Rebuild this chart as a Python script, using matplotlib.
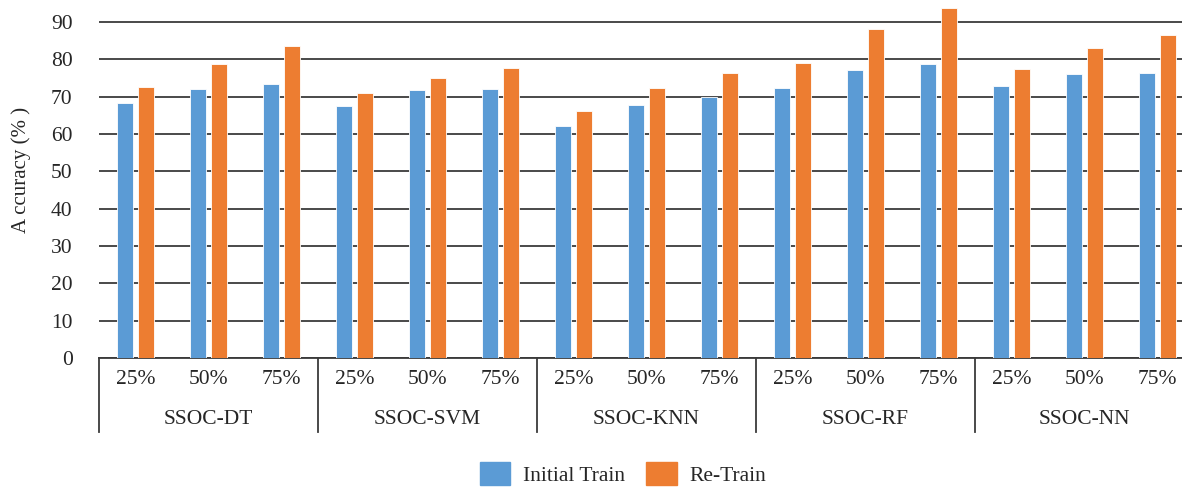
import numpy as np
import matplotlib
matplotlib.use("Agg")
import matplotlib.pyplot as plt
from matplotlib.patches import Patch
import matplotlib.transforms as mtransforms

plt.rcParams['font.family'] = ['Liberation Serif', 'DejaVu Serif']

# data
models = ['SSOC-DT', 'SSOC-SVM', 'SSOC-KNN', 'SSOC-RF', 'SSOC-NN']
ratios = ['25%', '50%', '75%']
initial_train = [68.2, 72.1, 73.5,
                 67.5, 71.8, 72.1,
                 62.1, 67.8, 70.0,
                 72.2, 77.1, 78.8,
                 72.8, 76.1, 76.3]
re_train = [72.6, 78.8, 83.5,
            70.9, 74.9, 77.7,
            66.2, 72.4, 76.3,
            79.0, 88.0, 93.8,
            77.5, 83.0, 86.4]

blue = '#5B9BD5'
orange = '#ED7D31'
txt = '#262626'
W, H = 1182, 487
fs = 15.5

fig = plt.figure(figsize=(W / 100, H / 100), dpi=100)
ax = fig.add_axes([99 / W, (H - 358) / H, (1194 - 99) / W, 358 / H])

x = np.arange(len(initial_train))
bw = 0.228
off = 0.144
ax.bar(x - off, initial_train, bw, color=blue, edgecolor='white', linewidth=0.6, zorder=3)
ax.bar(x + off, re_train, bw, color=orange, edgecolor='white', linewidth=0.6, zorder=3)

ax.set_xlim(-0.5, len(x) - 0.5)
ax.set_ylim(0, 95.9)
ax.set_yticks(np.arange(0, 100, 10))
ax.tick_params(axis='y', length=0, pad=19, labelsize=fs, labelcolor=txt)
ax.set_xticks([])
ax.yaxis.grid(True, color='#3a3a3a', linewidth=1.3, zorder=0)
for s in ['top', 'right', 'left']:
    ax.spines[s].set_visible(False)
ax.spines['bottom'].set_color('#3a3a3a')
ax.spines['bottom'].set_linewidth(1.3)
ax.set_ylabel('A ccuracy (% )', fontsize=15, color=txt)
ax.yaxis.set_label_coords(-0.062, 0.525)

trans = mtransforms.blended_transform_factory(ax.transData, ax.transAxes)
for i in x:
    ax.text(i, -21 / 358, ratios[i % 3], transform=trans, ha='center', va='center',
            fontsize=fs, color=txt)
for g, name in enumerate(models):
    ax.text(g * 3 + 1, -62 / 358, name, transform=trans, ha='center', va='center',
            fontsize=fs, color=txt)
for b in np.arange(-0.5, len(x), 3):
    ax.plot([b, b], [0, -74 / 358], transform=trans, color='#3a3a3a', lw=1.3,
            clip_on=False)

handles = [Patch(color=blue, label='Initial Train'), Patch(color=orange, label='Re-Train')]
fig.legend(handles=handles, loc='center', bbox_to_anchor=(623 / W, 1 - 474 / H), ncol=2,
           frameon=False, fontsize=fs, handlelength=1.4, handleheight=1.25,
           columnspacing=1.0, handletextpad=0.6, labelcolor=txt)

fig.savefig('out.png', dpi=100)
